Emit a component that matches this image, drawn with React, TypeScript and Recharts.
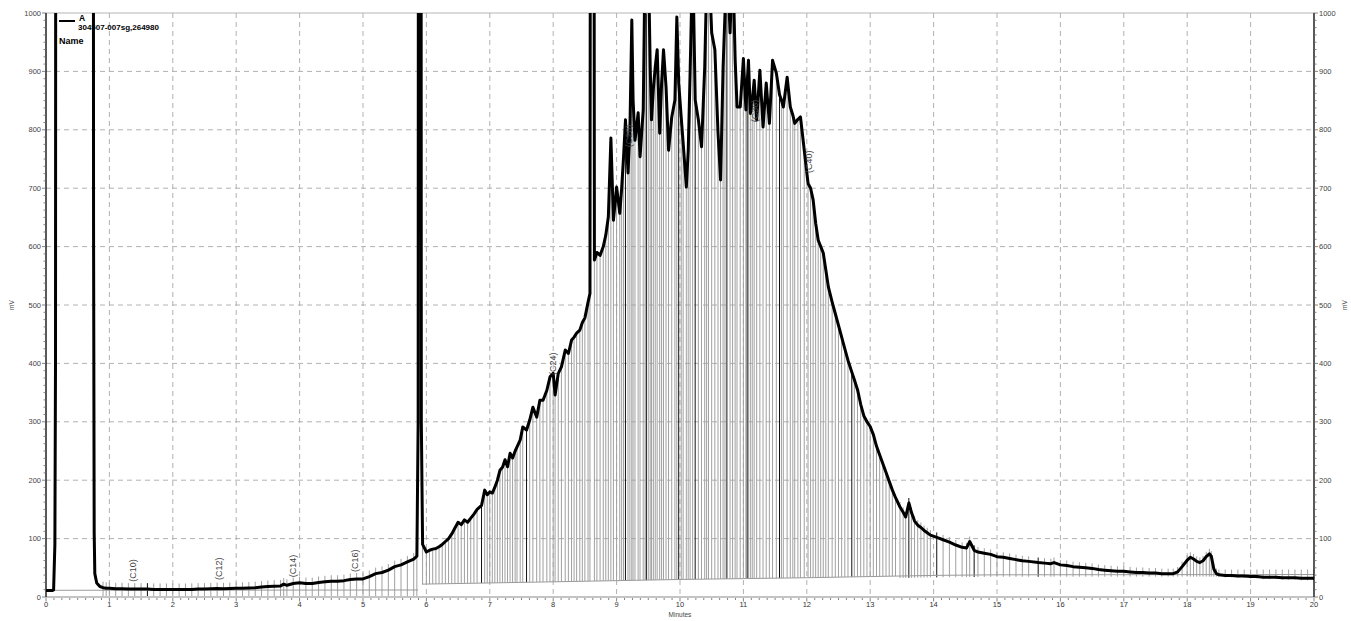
import React from 'react';
import {
  ComposedChart,
  Line,
  Bar,
  Scatter,
  XAxis,
  YAxis,
  CartesianGrid,
  ReferenceLine,
} from 'recharts';

// Detector trace, channel A (minutes, mV)
const traceTimes = [
  0, 0.05, 0.1, 0.12, 0.14, 0.15, 0.16, 0.74, 0.75, 0.76, 0.77, 0.8, 0.85, 0.9, 0.95,
  1.0, 1.1, 1.2, 1.3, 1.4, 1.5, 1.6, 1.7, 1.8, 1.9, 2.0, 2.1, 2.2, 2.3, 2.4, 2.5, 2.6, 2.7, 2.8, 2.9,
  3.0, 3.1, 3.2, 3.3, 3.4, 3.5, 3.6, 3.7, 3.75, 3.8, 3.9, 4.0, 4.1, 4.2, 4.3, 4.4, 4.5, 4.6, 4.7, 4.8, 4.9,
  5.0, 5.1, 5.2, 5.3, 5.4, 5.5, 5.6, 5.7, 5.8, 5.85, 5.87, 5.88, 5.91, 5.92, 5.94,
  6.0, 6.05, 6.1, 6.15, 6.2, 6.25, 6.3, 6.35, 6.4, 6.45, 6.5, 6.55, 6.6, 6.65, 6.7, 6.75, 6.8, 6.87, 6.92, 6.96,
  7.0, 7.04, 7.08, 7.12, 7.16, 7.2, 7.24, 7.28, 7.32, 7.36, 7.4, 7.43, 7.48, 7.52, 7.58, 7.63, 7.68, 7.74, 7.79, 7.84, 7.9, 7.95,
  8.0, 8.03, 8.08, 8.13, 8.19, 8.24, 8.29, 8.33, 8.37, 8.42, 8.46, 8.5, 8.55, 8.58, 8.6, 8.63, 8.65, 8.69, 8.74, 8.79, 8.83, 8.87, 8.91, 8.95,
  9.0, 9.05, 9.08, 9.11, 9.14, 9.18, 9.21, 9.24, 9.26, 9.29, 9.34, 9.37, 9.42, 9.45, 9.47, 9.5, 9.53, 9.55, 9.58, 9.61, 9.64, 9.68, 9.71, 9.74, 9.78, 9.82, 9.87, 9.92, 9.95, 9.98,
  10.02, 10.05, 10.1, 10.13, 10.16, 10.2, 10.24, 10.29, 10.34, 10.39, 10.42, 10.45, 10.5, 10.55, 10.6, 10.64, 10.68, 10.71, 10.74, 10.79, 10.83, 10.87, 10.9, 10.95,
  11.0, 11.04, 11.06, 11.08, 11.11, 11.14, 11.17, 11.21, 11.26, 11.31, 11.36, 11.41, 11.46, 11.52, 11.57, 11.6, 11.63, 11.69, 11.74, 11.78, 11.81, 11.86, 11.9, 11.96,
  12.02, 12.06, 12.1, 12.14, 12.18, 12.22, 12.26, 12.3, 12.34, 12.4, 12.45, 12.5, 12.55, 12.6, 12.65, 12.71, 12.75, 12.8, 12.85, 12.9, 12.95,
  13.0, 13.05, 13.1, 13.15, 13.2, 13.25, 13.3, 13.35, 13.4, 13.47, 13.52, 13.56, 13.61, 13.65, 13.7, 13.75, 13.8, 13.85, 13.9, 13.95,
  14.05, 14.15, 14.25, 14.35, 14.45, 14.52, 14.57, 14.64, 14.7, 14.8, 14.9,
  15.0, 15.1, 15.2, 15.3, 15.4, 15.5, 15.65, 15.75, 15.85, 15.9, 16.0, 16.1, 16.2, 16.3, 16.4, 16.5, 16.6, 16.7, 16.8, 16.9,
  17.0, 17.1, 17.2, 17.3, 17.4, 17.5, 17.6, 17.7, 17.78, 17.85, 17.92, 18.0, 18.05, 18.1, 18.15, 18.2, 18.25, 18.3, 18.35, 18.38, 18.42, 18.46,
  18.5, 18.6, 18.7, 18.8, 18.9, 19.0, 19.1, 19.2, 19.3, 19.4, 19.5, 19.6, 19.7, 19.8, 19.9, 20.0,
];

const traceMv = [
  11, 11, 11, 12, 90, 400, 3000, 3000, 640, 110, 40, 24, 18, 16, 15,
  15, 14, 14, 13.5, 13.5, 13.5, 13.5, 13, 13, 13, 13, 13, 13, 13, 13.5, 13.5, 14, 14.5, 14, 14.5,
  15, 15, 15.5, 16, 17, 18, 18.5, 19, 22, 20, 23, 24.5, 23, 23, 25, 26, 27, 27, 28, 30, 31,
  31, 35, 40, 42, 46, 52, 55, 60, 65, 70, 300, 3000, 3000, 300, 90,
  77, 80, 82, 83, 86, 90, 95, 100, 108, 118, 128, 124, 132, 128, 135, 142, 150, 157, 183, 175,
  180, 178, 188, 200, 217, 222, 235, 223, 246, 238, 250, 257, 269, 291, 286, 303, 325, 308, 337, 337, 354, 377,
  383, 346, 383, 394, 423, 417, 440, 445, 452, 457, 470, 478, 505, 520, 3000, 3000, 577, 590, 585, 600, 620, 651, 786, 645,
  702, 657, 700, 754, 817, 726, 800, 988, 851, 782, 829, 754, 834, 1100, 1100, 1100, 908, 817, 870, 908, 937, 794, 880, 937, 873, 765, 822, 851, 993, 880,
  820, 777, 702, 765, 900, 1100, 851, 817, 771, 908, 1050, 1100, 966, 937, 794, 714, 908, 1000, 1100, 966, 1100, 920, 839, 839,
  922, 834, 880, 919, 828, 850, 885, 817, 902, 805, 880, 811, 919, 897, 860, 851, 839, 890, 839, 825, 811, 818, 822, 765,
  708, 700, 680, 640, 611, 600, 589, 560, 531, 505, 485, 465, 445, 425, 405, 385, 372, 355, 330, 310, 300,
  292, 278, 258, 243, 228, 213, 198, 183, 170, 154, 145, 137, 161, 145, 130, 123, 119, 114, 110, 106,
  102, 98, 94, 89, 85, 84, 95, 80, 77, 75, 73,
  69, 68, 66, 64, 62, 61, 59, 58, 57, 59, 55, 54, 52, 51, 50, 49, 47, 46, 45, 44,
  44, 43, 42, 42, 41, 41, 40, 40, 40, 43, 52, 63, 68, 65, 61, 59, 62, 69, 74, 70, 48, 40,
  38, 37, 37, 36, 36, 35, 35, 34, 34, 34, 33, 33, 33, 32, 32, 32,
];

// Integration baselines (two segments, split at the 5.9 min peak)
const baseATimes = [0.12, 5.87];
const baseAMv = [11.5, 12];
const baseBTimes = [5.93, 8, 10, 11, 12, 13, 14, 15, 20];
const baseBMv = [22, 26, 30, 31.5, 33, 35, 37, 38, 38.5];

// Peaks whose drop lines are drawn dark
const markedPeakTimes = [1.6, 6.87, 7.58, 9.14, 9.47, 9.98, 10.24, 10.74, 11.06, 11.57, 12.71, 13.61, 14.05, 14.64, 15.65];

// Carbon-range markers: label, time (min), mV at the label's lower end
const markerNames = ['(C10)', '(C12)', '(C14)', '(C16)', '(C24)', '(C28)', '(C36)', '(C40)'];
const markerTimes = [1.37, 2.72, 3.89, 4.87, 7.99, 9.18, 11.18, 12.02];
const markerMv = [26, 29, 34, 43, 380, 770, 813, 726];

const gridTimes = [1, 2, 3, 4, 5, 6, 7, 8, 9, 10, 11, 12, 13, 14, 15, 16, 17, 18, 19];
const gridMv = [100, 200, 300, 400, 500, 600, 700, 800, 900];

// drawing styles for the drop lines in each retention window
const dropZones = [
  { from: 0.9, to: 5.86, over: 6, under: 6 },
  { from: 5.93, to: 13.45, over: 0, under: 0 },
  { from: 13.45, to: 20.01, over: 5, under: 2 },
];

const FONT = '"Liberation Sans", Arial, Helvetica, sans-serif';

const xTicks: number[] = [];
for (let i = 0; i <= 160; i++) xTicks.push(i / 8);
const yTicks: number[] = [];
for (let i = 0; i <= 80; i++) yTicks.push(i * 12.5);

function onBaseline(t: number): number {
  const segs: [number[], number[]][] = [
    [baseATimes, baseAMv],
    [baseBTimes, baseBMv],
  ];
  for (const [ts, vs] of segs) {
    if (t >= ts[0] && t <= ts[ts.length - 1]) {
      for (let k = 0; k < ts.length - 1; k++) {
        if (t >= ts[k] && t <= ts[k + 1]) {
          const f = (t - ts[k]) / (ts[k + 1] - ts[k]);
          return vs[k] + f * (vs[k + 1] - vs[k]);
        }
      }
    }
  }
  return baseAMv[0];
}

const rows = traceTimes.map((t, i) => {
  const mv = traceMv[i];
  const zone = dropZones.find((z) => t >= z.from && t < z.to);
  const drop = zone && mv < 1500 ? [onBaseline(t), mv] : null;
  return { t, mv, drop };
});

const baseARows = baseATimes.map((t, i) => ({ t, mv: baseAMv[i] }));
const baseBRows = baseBTimes.map((t, i) => ({ t, mv: baseBMv[i] }));
const markerRows = markerNames.map((name, i) => ({ name, t: markerTimes[i], mv: markerMv[i] }));

const DropLine = (props: any) => {
  const { x, y, width, height, payload } = props;
  if (!payload || payload.drop == null || x == null || y == null) return null;
  const zone = dropZones.find((z) => payload.t >= z.from && payload.t < z.to);
  const over = zone ? zone.over : 0;
  const under = zone ? zone.under : 0;
  const top = Math.min(y, y + height) - over;
  const bottom = Math.max(y, y + height) + under;
  const cx = x + width / 2;
  const dark = markedPeakTimes.includes(payload.t);
  return <line x1={cx} x2={cx} y1={top} y2={bottom} stroke={dark ? '#111' : '#a0a0a0'} strokeWidth={1} />;
};

const MarkerText = (props: any) => {
  const { cx, cy, payload } = props;
  if (cx == null || cy == null) return null;
  return (
    <text
      transform={`translate(${cx + 3.5},${cy}) rotate(-90)`}
      fontSize={9}
      fill="#444"
      fontFamily={FONT}
      textAnchor="start"
    >
      {payload.name}
    </text>
  );
};

const XTick = (props: any) => {
  const { x, y, payload } = props;
  const v = payload.value;
  const major = Math.abs(v - Math.round(v)) < 1e-6;
  return (
    <g>
      <line x1={x} x2={x} y1={y + 1} y2={y + (major ? 4.5 : 3)} stroke="#666" strokeWidth={0.8} />
      {major && (
        <text x={x} y={y + 10} textAnchor="middle" fontSize={7.5} fill="#333" fontFamily={FONT}>
          {v}
        </text>
      )}
    </g>
  );
};

const YTick = (props: any) => {
  const { x, y, payload, side } = props;
  const v = payload.value;
  const major = Math.abs(v % 100) < 1e-6;
  const dir = side === 'left' ? -1 : 1;
  return (
    <g>
      <line x1={x} x2={x + dir * (major ? 4 : 2.5)} y1={y} y2={y} stroke="#666" strokeWidth={0.8} />
      {major && (
        <text
          x={x + dir * 5}
          y={y}
          dy={2.6}
          textAnchor={side === 'left' ? 'end' : 'start'}
          fontSize={7.5}
          fill="#444"
          fontFamily={FONT}
        >
          {v}
        </text>
      )}
    </g>
  );
};

const UnitLabel = (props: any) => {
  const { viewBox, side } = props;
  if (!viewBox) return null;
  const { x, y, width, height } = viewBox;
  const cx = side === 'left' ? x + 12 : x + width - 6;
  const cy = y + height / 2;
  return (
    <text
      transform={`translate(${cx + 2},${cy}) rotate(-90)`}
      textAnchor="middle"
      fontSize={6.5}
      fill="#444"
      fontFamily={FONT}
    >
      mV
    </text>
  );
};

const TimeLabel = (props: any) => {
  const { viewBox } = props;
  if (!viewBox) return null;
  const { x, y, width } = viewBox;
  return (
    <text x={x + width / 2} y={y + 20} textAnchor="middle" fontSize={6.5} fill="#444" fontFamily={FONT}>
      Minutes
    </text>
  );
};

export default function App() {
  return (
    <div style={{ position: 'absolute', left: 0, top: 0, width: 1351, height: 621, background: '#fff' }}>
      <ComposedChart
        width={1351}
        height={621}
        data={rows}
        margin={{ top: 13, right: 0, bottom: 0, left: 0 }}
      >
        <CartesianGrid
          yAxisId="left"
          stroke="#a9a9a9"
          strokeDasharray="5 4"
          strokeWidth={0.9}
          horizontalValues={gridMv}
          verticalValues={gridTimes}
        />
        <XAxis
          dataKey="t"
          type="number"
          domain={[0, 20]}
          allowDataOverflow
          ticks={xTicks}
          interval={0}
          tickLine={false}
          tickSize={0}
          tickMargin={0}
          tick={<XTick />}
          axisLine={{ stroke: '#c4c4c4', strokeWidth: 2 }}
          height={24}
          label={<TimeLabel />}
        />
        <YAxis
          yAxisId="left"
          type="number"
          domain={[0, 1000]}
          allowDataOverflow
          ticks={yTicks}
          interval={0}
          tickLine={false}
          tickSize={0}
          tickMargin={0}
          tick={<YTick side="left" />}
          axisLine={{ stroke: '#000', strokeWidth: 1.3 }}
          width={46}
          label={<UnitLabel side="left" />}
        />
        <YAxis
          yAxisId="right"
          orientation="right"
          type="number"
          domain={[0, 1000]}
          allowDataOverflow
          ticks={yTicks}
          interval={0}
          tickLine={false}
          tickSize={0}
          tickMargin={0}
          tick={<YTick side="right" />}
          axisLine={{ stroke: '#000', strokeWidth: 1.3 }}
          width={37}
          label={<UnitLabel side="right" />}
        />
        <ReferenceLine yAxisId="left" y={1000} stroke="#b5b5b5" strokeWidth={1} />
        <Bar
          yAxisId="left"
          dataKey="drop"
          barSize={1}
          shape={<DropLine />}
          isAnimationActive={false}
        />
        <Line
          yAxisId="left"
          data={baseARows}
          dataKey="mv"
          stroke="#9a9a9a"
          strokeWidth={1}
          dot={false}
          isAnimationActive={false}
        />
        <Line
          yAxisId="left"
          data={baseBRows}
          dataKey="mv"
          stroke="#9a9a9a"
          strokeWidth={1}
          dot={false}
          isAnimationActive={false}
        />
        <Line
          yAxisId="left"
          dataKey="mv"
          stroke="#000"
          strokeWidth={3}
          strokeLinejoin="round"
          dot={false}
          isAnimationActive={false}
        />
        <Scatter
          yAxisId="right"
          data={markerRows}
          dataKey="mv"
          shape={<MarkerText />}
          isAnimationActive={false}
        />
      </ComposedChart>
      <div
        style={{
          position: 'absolute',
          left: 59,
          top: 14,
          fontFamily: FONT,
          fontWeight: 'bold',
          color: '#000',
          lineHeight: 1,
          pointerEvents: 'none',
        }}
      >
        <div style={{ display: 'flex', alignItems: 'flex-start' }}>
          <div style={{ width: 16, height: 2, background: '#000', marginTop: 6, marginRight: 3 }} />
          <div>
            <div style={{ fontSize: 8.5, marginLeft: 1 }}>A</div>
            <div style={{ fontSize: 8, marginTop: 1.5 }}>304507-007sg,264980</div>
          </div>
        </div>
        <div style={{ fontSize: 9, marginTop: 5 }}>Name</div>
      </div>
    </div>
  );
}
